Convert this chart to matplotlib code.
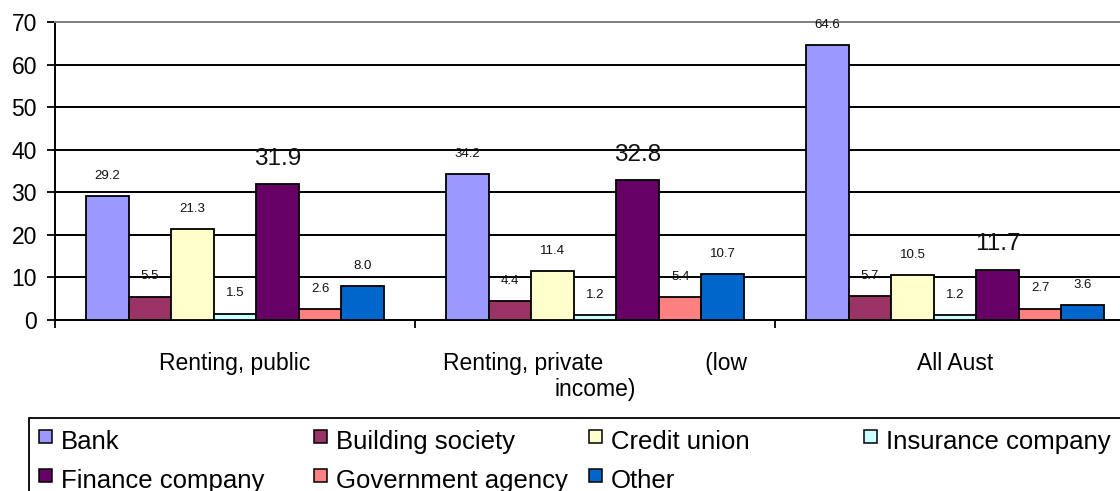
import numpy as np
import matplotlib
matplotlib.use('Agg')
import matplotlib.pyplot as plt
from matplotlib.patches import Rectangle

plt.rcParams['font.family'] = ['Liberation Sans', 'DejaVu Sans']

groups = ['Renting, public',
          'Renting, private                (low\nincome)', 'All Aust']
series = ['Bank', 'Building society', 'Credit union', 'Insurance company',
          'Finance company', 'Government agency', 'Other']
colors = ['#9999FF', '#993366', '#FFFFCC', '#CCFFFF', '#660066', '#FF8080', '#0066CC']

bank = [29.2, 34.2, 64.6]
building_society = [5.5, 4.4, 5.7]
credit_union = [21.3, 11.4, 10.5]
insurance_company = [1.5, 1.2, 1.2]
finance_company = [31.9, 32.8, 11.7]
government_agency = [2.6, 5.4, 2.7]
other = [8.0, 10.7, 3.6]

values = [bank, building_society, credit_union, insurance_company,
          finance_company, government_agency, other]

W, H = 1120, 491
fig = plt.figure(figsize=(W / 100, H / 100), dpi=100)
ax = fig.add_axes([55 / W, 1 - 320 / H, 1080 / W, 298 / H])

x = np.arange(len(groups))
bw = 0.1183
for i, (name, vals) in enumerate(zip(series, values)):
    pos = x + (i - 3) * bw
    ax.bar(pos, vals, bw, color=colors[i], edgecolor='black', linewidth=1.3, zorder=3)
    big = name == 'Finance company'
    for px, v in zip(pos, vals):
        ax.annotate('%.1f' % v, (px, v), xytext=(0, 18.5 if big else 14.5),
                    textcoords='offset points', ha='center', va='center',
                    fontsize=17.5 if big else 9.5, color='#111111', zorder=4)

ax.set_xlim(-0.5, 2.5)
ax.set_ylim(0, 70)
ax.set_yticks(range(0, 71, 10))
for yv in range(10, 70, 10):
    ax.axhline(yv, color='black', linewidth=1.4, zorder=1)

ax.set_xticks(x)
ax.set_xticklabels(groups, fontsize=16.5, linespacing=1.15)
ax.set_xticks([-0.5, 0.5, 1.5, 2.5], minor=True)
ax.tick_params(axis='x', which='major', length=0, pad=23)
ax.tick_params(axis='x', which='minor', length=6, width=1.3, direction='out')
ax.tick_params(axis='y', labelsize=16.5, length=6, width=1.3, direction='out', pad=7)

for s in ['left', 'bottom']:
    ax.spines[s].set_linewidth(1.4)
ax.spines['right'].set_visible(False)
ax.spines['top'].set_color('#808080')
ax.spines['top'].set_linewidth(1.4)

# legend box drawn in pixel coordinates, open to the right and bottom
fig.add_artist(Rectangle((29 / W, -0.05), 1.1, (H - 418) / H + 0.05,
                         transform=fig.transFigure, facecolor='white',
                         edgecolor='black', linewidth=1.3))
col_x = [39, 314, 589, 864]
row_y = [441, 480]
for i, name in enumerate(series):
    cx = col_x[i % 4]
    cy = row_y[i // 4]
    fig.add_artist(Rectangle((cx / W, 1 - (cy + 2) / H), 13 / W, 13 / H,
                             transform=fig.transFigure, facecolor=colors[i],
                             edgecolor='black', linewidth=1.1))
    fig.text((cx + 22) / W, 1 - (cy + 1) / H, name, fontsize=18.5, va='center', ha='left')

fig.savefig('out.png', dpi=100)
